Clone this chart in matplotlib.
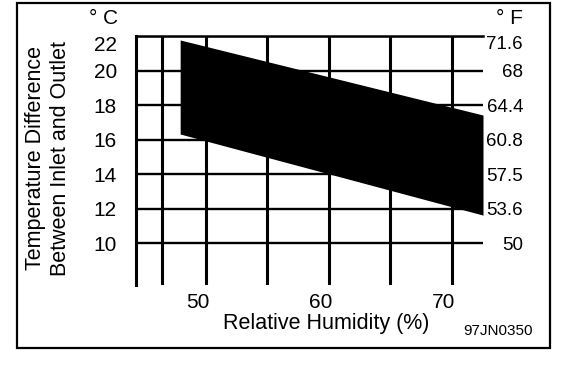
import matplotlib
matplotlib.use("Agg")
import matplotlib.pyplot as plt
import matplotlib.transforms as mtransforms
from matplotlib.patches import Rectangle

plt.rcParams['font.family'] = ['Liberation Sans', 'DejaVu Sans']

# ---- data ----
band_x = [47.9, 72.52]
band_upper = [21.77, 17.42]
band_lower = [16.32, 11.62]

celsius_ticks = [10, 12, 14, 16, 18, 20, 22]
celsius_labels = ['10', '12', '14', '16', '18', '20', '22']
fahrenheit_labels = ['50', '53.6', '57.5', '60.8', '64.4', '68', '71.6']
humidity_ticks = [50, 60, 70]
humidity_labels = ['50', '60', '70']
humidity_grid = [46.4, 55, 65]

W, H = 576, 370
fig = plt.figure(figsize=(W / 100, H / 100), dpi=100)
ax = fig.add_axes([136 / W, 1 - 285 / H, (483 - 136) / W, (285 - 36) / H])
ax.set_xlim(44.31, 72.52)
ax.set_ylim(7.57, 22)

ax.fill_between(band_x, band_upper, band_lower, color='black', lw=0, zorder=3)

ax.set_yticks(celsius_ticks)
ax.set_yticklabels(celsius_labels)
ax.set_xticks(humidity_ticks)
ax.set_xticklabels(humidity_labels)
ax.set_xticks(humidity_grid, minor=True)
ax.grid(True, axis='x', which='both', color='black', lw=2.2, zorder=1)
ax.grid(True, axis='y', which='major', color='black', lw=1.7, zorder=1)
ax.set_axisbelow(True)
ax.tick_params(axis='both', which='both', length=0, labelsize=15)
ax.tick_params(axis='y', pad=13.7)
ax.tick_params(axis='x', pad=5.5)
for s in ['right', 'bottom']:
    ax.spines[s].set_visible(False)
ax.spines['left'].set_linewidth(2.2)
ax.spines['top'].set_linewidth(1.8)

off = mtransforms.ScaledTranslation(-8 / 100, 0, fig.dpi_scale_trans)
for lab in ax.get_xticklabels():
    lab.set_transform(lab.get_transform() + off)
ax.get_yticklabels()[-1].set_va('top')

ax2 = ax.twinx()
ax2.set_ylim(ax.get_ylim())
ax2.set_yticks(celsius_ticks)
ax2.set_yticklabels(fahrenheit_labels)
ax2.tick_params(axis='y', length=0, labelsize=13.5, pad=28.8)
for lab in ax2.get_yticklabels():
    lab.set_ha('right')
ax2.get_yticklabels()[-1].set_va('top')
for s in ax2.spines.values():
    s.set_visible(False)

ax.set_xlabel('Relative Humidity (%)', fontsize=15.5)
ax.xaxis.set_label_coords((326 - 136) / 347, (285 - 324) / 249)
ax.xaxis.label.set_va('center')

ax.set_ylabel('Temperature Difference\nBetween Inlet and Outlet', fontsize=15.5,
              linespacing=1.3)
ax.yaxis.set_label_coords((48 - 136) / 347, (285 - 158) / 249)
ax.yaxis.label.set_va('center')

fig.text(118 / W, 1 - 18 / H, '° C', fontsize=15, ha='right', va='center')
fig.text(523 / W, 1 - 18 / H, '° F', fontsize=15, ha='right', va='center')
fig.text(498 / W, 1 - 331 / H, '97JN0350', fontsize=11, ha='center', va='center')

fig.patches.append(Rectangle((17 / W, 1 - 348 / H), (550 - 17) / W, (348 - 3) / H,
                             transform=fig.transFigure, fill=False,
                             edgecolor='black', lw=1.6))

fig.savefig('out.png', dpi=100)
